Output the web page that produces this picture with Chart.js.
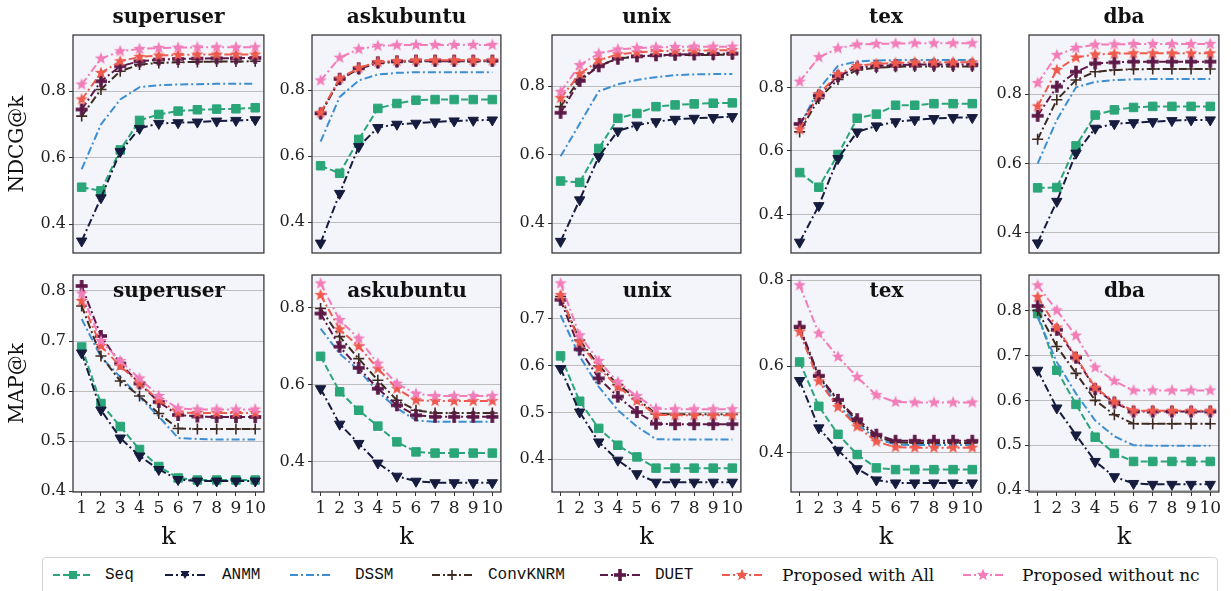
<!DOCTYPE html>
<html>
<head>
<meta charset="utf-8">
<script src="https://cdn.jsdelivr.net/npm/chart.js@4.4.1/dist/chart.umd.min.js"></script>
<style>
  body { margin: 0; background: #fff; width: 1231px; height: 591px; overflow: hidden; position: relative; }
  canvas.panel { position: absolute; }
  .inner { position: absolute; font: bold 20px "DejaVu Serif", serif; color: #111; text-align: center; line-height: 24px; pointer-events: none; }
  #legend { position: absolute; left: 42px; top: 557px; width: 1174px; height: 40px; border: 1px solid #d4d4d4; border-radius: 4px; background: #fff; }
  .item { position: absolute; top: 0; height: 34px; display: flex; align-items: center; white-space: nowrap; color: #111; }
  .mono { font: 16px "Liberation Mono", "DejaVu Sans Mono", monospace; }
  .serif { font: 17px "DejaVu Serif", serif; }
</style>
</head>
<body>
<div id="legend"></div>
<script>
const kValues = [1, 2, 3, 4, 5, 6, 7, 8, 9, 10];
const models = ['Seq', 'ANMM', 'DSSM', 'ConvKNRM', 'DUET', 'Proposed with All', 'Proposed without nc'];
const sites = ['superuser', 'askubuntu', 'unix', 'tex', 'dba'];

// NDCG@k, one row per model (same order as models)
const ndcgSuperuser = [
  [0.511, 0.500, 0.623, 0.712, 0.730, 0.740, 0.744, 0.746, 0.747, 0.750],
  [0.349, 0.479, 0.618, 0.688, 0.703, 0.705, 0.707, 0.710, 0.712, 0.714],
  [0.565, 0.700, 0.775, 0.812, 0.818, 0.820, 0.821, 0.822, 0.822, 0.822],
  [0.725, 0.805, 0.860, 0.880, 0.885, 0.887, 0.888, 0.889, 0.889, 0.890],
  [0.745, 0.830, 0.875, 0.890, 0.895, 0.897, 0.898, 0.899, 0.899, 0.900],
  [0.775, 0.855, 0.890, 0.903, 0.907, 0.909, 0.910, 0.910, 0.910, 0.910],
  [0.820, 0.898, 0.920, 0.927, 0.930, 0.931, 0.932, 0.932, 0.932, 0.932]
];
const ndcgAskubuntu = [
  [0.571, 0.548, 0.651, 0.745, 0.760, 0.770, 0.772, 0.772, 0.772, 0.772],
  [0.336, 0.487, 0.629, 0.687, 0.697, 0.700, 0.704, 0.707, 0.709, 0.710],
  [0.644, 0.780, 0.830, 0.848, 0.853, 0.855, 0.855, 0.855, 0.855, 0.855],
  [0.728, 0.832, 0.865, 0.883, 0.886, 0.888, 0.888, 0.888, 0.888, 0.888],
  [0.730, 0.835, 0.867, 0.885, 0.888, 0.890, 0.890, 0.890, 0.890, 0.890],
  [0.732, 0.836, 0.868, 0.886, 0.889, 0.891, 0.891, 0.891, 0.891, 0.891],
  [0.830, 0.899, 0.925, 0.935, 0.937, 0.938, 0.938, 0.938, 0.938, 0.938]
];
const ndcgUnix = [
  [0.523, 0.519, 0.618, 0.706, 0.720, 0.740, 0.745, 0.748, 0.750, 0.751],
  [0.347, 0.468, 0.594, 0.669, 0.686, 0.696, 0.703, 0.706, 0.708, 0.711],
  [0.595, 0.690, 0.785, 0.805, 0.818, 0.826, 0.832, 0.834, 0.835, 0.835],
  [0.740, 0.820, 0.860, 0.880, 0.886, 0.889, 0.890, 0.891, 0.891, 0.892],
  [0.722, 0.815, 0.858, 0.880, 0.887, 0.890, 0.892, 0.893, 0.894, 0.895],
  [0.765, 0.835, 0.875, 0.893, 0.898, 0.902, 0.903, 0.904, 0.904, 0.905],
  [0.783, 0.861, 0.895, 0.907, 0.911, 0.913, 0.914, 0.915, 0.915, 0.915]
];
const ndcgTex = [
  [0.532, 0.486, 0.589, 0.703, 0.716, 0.744, 0.744, 0.749, 0.749, 0.749],
  [0.313, 0.428, 0.576, 0.660, 0.679, 0.692, 0.698, 0.702, 0.705, 0.705],
  [0.679, 0.795, 0.868, 0.882, 0.885, 0.886, 0.886, 0.886, 0.886, 0.886],
  [0.660, 0.765, 0.825, 0.855, 0.862, 0.865, 0.866, 0.866, 0.866, 0.866],
  [0.685, 0.775, 0.835, 0.862, 0.868, 0.870, 0.872, 0.872, 0.872, 0.872],
  [0.668, 0.779, 0.842, 0.868, 0.874, 0.877, 0.879, 0.879, 0.879, 0.879],
  [0.818, 0.895, 0.923, 0.935, 0.937, 0.938, 0.939, 0.939, 0.939, 0.939]
];
const ndcgDba = [
  [0.530, 0.531, 0.651, 0.740, 0.755, 0.762, 0.765, 0.765, 0.765, 0.765],
  [0.371, 0.491, 0.630, 0.702, 0.715, 0.718, 0.721, 0.724, 0.726, 0.726],
  [0.600, 0.726, 0.820, 0.836, 0.841, 0.843, 0.844, 0.844, 0.844, 0.844],
  [0.670, 0.784, 0.841, 0.865, 0.870, 0.872, 0.873, 0.873, 0.873, 0.873],
  [0.738, 0.822, 0.865, 0.889, 0.892, 0.894, 0.894, 0.894, 0.894, 0.894],
  [0.765, 0.870, 0.906, 0.915, 0.917, 0.918, 0.918, 0.918, 0.918, 0.918],
  [0.832, 0.913, 0.934, 0.943, 0.944, 0.945, 0.945, 0.945, 0.945, 0.945]
];

// MAP@k
const mapSuperuser = [
  [0.688, 0.575, 0.529, 0.483, 0.449, 0.426, 0.422, 0.422, 0.422, 0.422],
  [0.676, 0.562, 0.506, 0.470, 0.443, 0.423, 0.420, 0.420, 0.420, 0.420],
  [0.744, 0.668, 0.628, 0.588, 0.549, 0.506, 0.504, 0.503, 0.503, 0.503],
  [0.770, 0.670, 0.620, 0.590, 0.555, 0.525, 0.524, 0.524, 0.524, 0.524],
  [0.810, 0.710, 0.655, 0.615, 0.578, 0.552, 0.549, 0.548, 0.548, 0.548],
  [0.780, 0.690, 0.650, 0.615, 0.582, 0.557, 0.556, 0.556, 0.556, 0.556],
  [0.795, 0.700, 0.660, 0.625, 0.590, 0.565, 0.563, 0.563, 0.563, 0.563]
];
const mapAskubuntu = [
  [0.674, 0.582, 0.534, 0.493, 0.452, 0.426, 0.423, 0.423, 0.423, 0.423],
  [0.590, 0.498, 0.448, 0.397, 0.363, 0.350, 0.346, 0.346, 0.346, 0.346],
  [0.746, 0.681, 0.638, 0.582, 0.539, 0.508, 0.504, 0.504, 0.504, 0.504],
  [0.798, 0.725, 0.668, 0.612, 0.560, 0.534, 0.527, 0.527, 0.527, 0.527],
  [0.785, 0.699, 0.644, 0.590, 0.547, 0.521, 0.517, 0.517, 0.517, 0.517],
  [0.833, 0.744, 0.700, 0.642, 0.590, 0.560, 0.558, 0.558, 0.558, 0.558],
  [0.863, 0.768, 0.720, 0.655, 0.603, 0.577, 0.571, 0.571, 0.571, 0.571]
];
const mapUnix = [
  [0.621, 0.524, 0.466, 0.430, 0.405, 0.381, 0.381, 0.381, 0.381, 0.381],
  [0.594, 0.501, 0.437, 0.398, 0.369, 0.351, 0.351, 0.351, 0.351, 0.351],
  [0.708, 0.620, 0.555, 0.505, 0.470, 0.443, 0.442, 0.442, 0.442, 0.442],
  [0.748, 0.655, 0.600, 0.560, 0.530, 0.497, 0.496, 0.496, 0.496, 0.496],
  [0.741, 0.635, 0.573, 0.534, 0.501, 0.476, 0.475, 0.475, 0.475, 0.475],
  [0.751, 0.650, 0.595, 0.555, 0.525, 0.495, 0.494, 0.494, 0.494, 0.494],
  [0.776, 0.665, 0.610, 0.565, 0.535, 0.508, 0.507, 0.507, 0.507, 0.507]
];
const mapTex = [
  [0.610, 0.507, 0.442, 0.395, 0.364, 0.360, 0.360, 0.360, 0.360, 0.360],
  [0.567, 0.457, 0.405, 0.362, 0.336, 0.329, 0.329, 0.329, 0.329, 0.329],
  [0.680, 0.570, 0.510, 0.465, 0.432, 0.418, 0.417, 0.417, 0.417, 0.417],
  [0.688, 0.575, 0.520, 0.472, 0.437, 0.423, 0.422, 0.422, 0.422, 0.422],
  [0.692, 0.578, 0.522, 0.477, 0.441, 0.427, 0.427, 0.427, 0.427, 0.427],
  [0.680, 0.565, 0.505, 0.460, 0.425, 0.412, 0.411, 0.411, 0.411, 0.411],
  [0.788, 0.676, 0.622, 0.575, 0.533, 0.517, 0.516, 0.516, 0.516, 0.516]
];
const mapDba = [
  [0.793, 0.667, 0.591, 0.518, 0.482, 0.464, 0.464, 0.464, 0.464, 0.464],
  [0.667, 0.583, 0.523, 0.464, 0.430, 0.415, 0.413, 0.413, 0.413, 0.413],
  [0.785, 0.685, 0.615, 0.555, 0.520, 0.500, 0.499, 0.499, 0.499, 0.499],
  [0.800, 0.720, 0.660, 0.600, 0.568, 0.548, 0.548, 0.548, 0.548, 0.548],
  [0.810, 0.757, 0.695, 0.625, 0.595, 0.575, 0.575, 0.575, 0.575, 0.575],
  [0.830, 0.762, 0.697, 0.628, 0.597, 0.577, 0.577, 0.577, 0.577, 0.577],
  [0.856, 0.800, 0.744, 0.673, 0.643, 0.622, 0.622, 0.622, 0.622, 0.622]
];

const ndcgTicks = [0.4, 0.6, 0.8];
const mapTicks = [
  [0.4, 0.5, 0.6, 0.7, 0.8],
  [0.4, 0.6, 0.8],
  [0.4, 0.5, 0.6, 0.7],
  [0.4, 0.6, 0.8],
  [0.4, 0.5, 0.6, 0.7, 0.8]
];
const ndcgRange = [[0.313, 0.969], [0.306, 0.968], [0.313, 0.949], [0.279, 0.965], [0.342, 0.971]];
const mapRange = [[0.398, 0.832], [0.322, 0.885], [0.330, 0.794], [0.308, 0.812], [0.396, 0.879]];

const ndcgData = [ndcgSuperuser, ndcgAskubuntu, ndcgUnix, ndcgTex, ndcgDba];
const mapData = [mapSuperuser, mapAskubuntu, mapUnix, mapTex, mapDba];

// layout of the plot boxes
const colLeft = [73, 312, 552, 791, 1029];
const colRight = [265, 502, 742, 982, 1220];
const SERIF = '"DejaVu Serif", serif';

function starImg(color, r) {
  const c = document.createElement('canvas');
  c.width = c.height = 2 * Math.ceil(r) + 2;
  const g = c.getContext('2d'), m = c.width / 2;
  g.beginPath();
  for (let i = 0; i < 10; i++) {
    const a = -Math.PI / 2 + i * Math.PI / 5;
    const rr = i % 2 ? r * 0.42 : r;
    g.lineTo(m + rr * Math.cos(a), m + rr * Math.sin(a));
  }
  g.closePath();
  g.fillStyle = color;
  g.fill();
  return c;
}
function plusImg(color, r, t) {
  const c = document.createElement('canvas');
  c.width = c.height = 2 * r + 2;
  const g = c.getContext('2d'), m = c.width / 2;
  g.fillStyle = color;
  g.fillRect(m - t / 2, m - r, t, 2 * r);
  g.fillRect(m - r, m - t / 2, 2 * r, t);
  return c;
}

const styles = [
  { color: '#2aa678', dash: [7, 3], point: 'rect', radius: 6 },
  { color: '#161c3e', dash: [8, 3, 2, 3], point: 'triangle', radius: 6, rotation: 180 },
  { color: '#3d8fd1', dash: [8, 3, 2, 3], point: null },
  { color: '#3e2b22', dash: [8, 3, 2, 3], point: 'cross', radius: 5.5, pw: 1.6 },
  { color: '#5c1846', dash: [8, 3, 2, 3], point: plusImg('#5c1846', 6, 3.6) },
  { color: '#ef5a4e', dash: [8, 3, 2, 3], point: starImg('#ef5a4e', 6.5) },
  { color: '#f27db8', dash: [8, 3, 2, 3], point: starImg('#f27db8', 6.5) }
];

const framePlugin = {
  id: 'frame',
  beforeDraw(chart) {
    const { ctx, chartArea: a } = chart;
    ctx.save();
    ctx.fillStyle = '#f4f4fb';
    ctx.fillRect(a.left, a.top, a.width, a.height);
    ctx.restore();
  },
  afterDatasetsDraw(chart) {
    const { ctx, chartArea: a } = chart;
    ctx.save();
    ctx.strokeStyle = '#3a3a3a';
    ctx.lineWidth = 1.3;
    ctx.strokeRect(a.left, a.top, a.width, a.height);
    ctx.restore();
  }
};

function makePanel(row, col) {
  const isTop = row === 0;
  const series = isTop ? ndcgData[col] : mapData[col];
  const range = isTop ? ndcgRange[col] : mapRange[col];
  const ticks = isTop ? ndcgTicks : mapTicks[col];
  const axisW = col === 0 ? 73 : 42;
  const boxW = colRight[col] - colLeft[col];
  const width = axisW + boxW + 6;
  const top = isTop ? 0 : 261;
  const height = isTop ? 267 : 293;

  const cv = document.createElement('canvas');
  cv.className = 'panel';
  cv.width = width; cv.height = height;
  cv.style.left = (colLeft[col] - axisW) + 'px';
  cv.style.top = top + 'px';
  cv.style.width = width + 'px';
  cv.style.height = height + 'px';
  document.body.appendChild(cv);

  const datasets = series.map((vals, i) => {
    const st = styles[i];
    return {
      label: models[i],
      data: vals.map((v, j) => ({ x: kValues[j], y: v })),
      borderColor: st.color,
      backgroundColor: st.color,
      borderWidth: 2,
      borderDash: st.dash,
      pointStyle: st.point || 'circle',
      pointRadius: st.point ? (st.radius || 5) : 0,
      pointRotation: st.rotation || 0,
      pointBackgroundColor: st.color,
      pointBorderColor: st.color,
      pointBorderWidth: st.pw || 1,
      tension: 0,
      order: 6 - i,
      clip: 6
    };
  });

  const xScale = isTop ? { type: 'linear', min: 0.55, max: 10.45, display: false } : {
    type: 'linear', min: 0.55, max: 10.45,
    afterBuildTicks: s => { s.ticks = kValues.map(v => ({ value: v })); },
    afterFit: s => { s.height = 62; },
    ticks: { font: { family: SERIF, size: 17 }, color: '#222', padding: 2, maxRotation: 0, autoSkip: false },
    grid: { drawOnChartArea: false, tickLength: 4, tickColor: '#333' },
    border: { display: false },
    title: { display: true, text: 'k', font: { family: SERIF, size: 24 }, color: '#111', padding: { top: 0, bottom: 2 } }
  };

  new Chart(cv, {
    type: 'line',
    data: { datasets },
    plugins: [framePlugin],
    options: {
      responsive: false,
      animation: false,
      devicePixelRatio: 1,
      events: [],
      layout: { padding: isTop ? { left: 0, right: 6, top: 0, bottom: 14 } : { left: 0, right: 6, top: 14, bottom: 0 } },
      scales: {
        x: xScale,
        y: {
          min: range[0], max: range[1],
          afterBuildTicks: s => { s.ticks = ticks.map(v => ({ value: v })); },
          afterFit: s => { s.width = axisW; },
          ticks: { callback: v => v.toFixed(1), font: { family: SERIF, size: 16 }, color: '#222', padding: 3 },
          grid: { color: '#bdbdbd', lineWidth: 1, tickLength: 4, tickColor: '#333' },
          border: { display: false },
          title: {
            display: col === 0,
            text: isTop ? 'NDCG@k' : 'MAP@k',
            font: { family: SERIF, size: 20 },
            color: '#111',
            padding: { top: 6, bottom: 0 }
          }
        }
      },
      plugins: {
        legend: { display: false },
        tooltip: { enabled: false },
        title: {
          display: isTop,
          text: sites[col],
          fullSize: false,
          font: { family: SERIF, size: 20, weight: 'bold', lineHeight: 1.2 },
          color: '#111',
          padding: { top: 6, bottom: 5 }
        }
      }
    }
  });

  if (!isTop) {
    const t = document.createElement('div');
    t.className = 'inner';
    t.textContent = sites[col];
    t.style.left = colLeft[col] + 'px';
    t.style.width = boxW + 'px';
    t.style.top = '278px';
    document.body.appendChild(t);
  }
}

for (let r = 0; r < 2; r++) for (let c = 0; c < 5; c++) makePanel(r, c);

// legend: line sample + label for each model
const legendPos = [[53, 105], [165, 222], [290, 355], [432, 488], [600, 655], [722, 782], [963, 1022]];
const legend = document.getElementById('legend');
models.forEach((name, i) => {
  const st = styles[i];
  const sample = document.createElement('canvas');
  sample.width = 40; sample.height = 16;
  sample.style.position = 'absolute';
  sample.style.left = (legendPos[i][0] - 43) + 'px';
  sample.style.top = '9px';
  const g = sample.getContext('2d');
  g.strokeStyle = st.color; g.fillStyle = st.color; g.lineWidth = 2;
  g.setLineDash(st.dash);
  g.beginPath(); g.moveTo(0, 8); g.lineTo(40, 8); g.stroke();
  g.setLineDash([]);
  if (st.point === 'rect') g.fillRect(16, 4, 8, 8);
  else if (st.point === 'triangle') { g.beginPath(); g.moveTo(15.5, 4); g.lineTo(24.5, 4); g.lineTo(20, 12); g.closePath(); g.fill(); }
  else if (st.point === 'cross') { g.lineWidth = 1.6; g.beginPath(); g.moveTo(15, 8); g.lineTo(25, 8); g.moveTo(20, 3); g.lineTo(20, 13); g.stroke(); }
  else if (st.point) g.drawImage(st.point, 20 - st.point.width / 2, 8 - st.point.height / 2);
  legend.appendChild(sample);

  const lab = document.createElement('div');
  lab.className = 'item ' + (i < 5 ? 'mono' : 'serif');
  lab.style.left = (legendPos[i][1] - 43) + 'px';
  lab.textContent = name;
  legend.appendChild(lab);
});
</script>
</body>
</html>
